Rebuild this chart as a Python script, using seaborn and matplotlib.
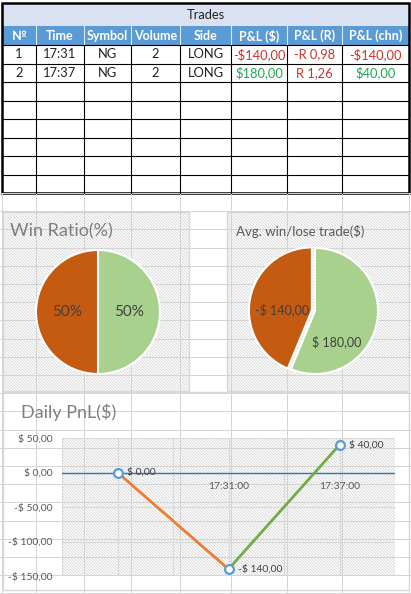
import numpy as np
import pandas as pd
import matplotlib.pyplot as plt
import seaborn as sns
from matplotlib.patches import Rectangle
from matplotlib.collections import LineCollection

# Dados da tabela de trades
headers = ['№', 'Time', 'Symbol', 'Volume', 'Side', 'P&L ($)', 'P&L (R)', 'P&L (chn)']
trade_no = [1, 2]
trade_time = ['17:31', '17:37']
symbol = ['NG', 'NG']
volume = [2, 2]
side = ['LONG', 'LONG']
pnl_usd = [-140.0, 180.0]
pnl_r = [-0.98, 1.26]
pnl_cum = [-140.0, 40.0]
n_rows = 8

# Pizzas
win_ratio = [50, 50]          # win, lose
avg_trade = [180.0, -140.0]   # win, lose

# Daily PnL
pnl_labels = ['', '17:31:00', '17:37:00']
pnl_values = [0.0, -140.0, 40.0]
y_ticks = [50, 0, -50, -100, -150]

W, H = 411, 594
GREEN_PIE = '#A9D18E'
ORANGE_PIE = '#C55A11'
LINE_ORANGE = '#ED7D31'
LINE_GREEN = '#70AD47'
MARKER = '#5B9BD5'
AXIS_BLUE = '#2E75B6'
GRID = '#D9D9D9'
RED = '#D0312D'
GREEN_TXT = '#1FA855'

sns.set_theme(style='white')
plt.rcParams['font.family'] = ['Lato', 'DejaVu Sans']


def money(v, space=True):
    s = f'{abs(v):.2f}'.replace('.', ',')
    sign = '-' if v < 0 else ''
    return f'{sign}$ {s}' if space else f'{sign}${s}'


def r_fmt(v):
    s = f'{abs(v):.2f}'.replace('.', ',')
    return ('-' if v < 0 else '') + 'R ' + s


def px_axes(x0, y0, x1, y1):
    return fig.add_axes([x0 / W, 1 - y1 / H, (x1 - x0) / W, (y1 - y0) / H])


fig = plt.figure(figsize=(W / 100, H / 100), dpi=100)
bg = fig.add_axes([0, 0, 1, 1])
bg.set_xlim(0, W)
bg.set_ylim(H, 0)
bg.axis('off')

# grade da planilha
col_edges = [2, 36, 84, 131, 180, 231, 287, 342, 409]
for x in col_edges:
    bg.plot([x, x], [193, H], color='#D4D4D4', lw=0.7)
for y in np.arange(193, H, 18.2):
    bg.plot([0, W], [y, y], color='#D4D4D4', lw=0.7)

# tabela
bg.add_patch(Rectangle((2, 3), 407, 23, fc='#D9E1F2', ec='none'))
bg.add_patch(Rectangle((2, 26), 407, 19, fc='#5B9BD5', ec='none'))
bg.add_patch(Rectangle((2, 45), 407, 148, fc='white', ec='none'))
bg.text(205.5, 15, 'Trades', ha='center', va='center', fontsize=9.3, color='#222222')
row_edges = [45 + i * 18.5 for i in range(n_rows + 1)]
for i, h in enumerate(headers):
    cx = (col_edges[i] + col_edges[i + 1]) / 2
    bg.text(cx, 36, h, ha='center', va='center', fontsize=9, color='white', weight='bold')
for x in col_edges[1:-1]:
    bg.plot([x, x], [26, 45], color='#DDE8F5', lw=0.8)
    bg.plot([x, x], [45, 193], color='black', lw=0.8)
for y in row_edges[1:-1]:
    bg.plot([2, 409], [y, y], color='black', lw=0.8)
bg.plot([2, 409], [45, 45], color='black', lw=0.8)
bg.add_patch(Rectangle((2, 3), 407, 190, fc='none', ec='black', lw=1.8))

for r in range(len(trade_no)):
    vals = [str(trade_no[r]), trade_time[r], symbol[r], str(volume[r]), side[r],
            money(pnl_usd[r], False), r_fmt(pnl_r[r]), money(pnl_cum[r], False)]
    cols = ['#222222'] * 5 + [RED if pnl_usd[r] < 0 else GREEN_TXT, RED,
                              RED if pnl_cum[r] < 0 else GREEN_TXT]
    cy = (row_edges[r] + row_edges[r + 1]) / 2
    for i, v in enumerate(vals):
        cx = (col_edges[i] + col_edges[i + 1]) / 2
        bg.text(cx, cy, v, ha='center', va='center', fontsize=9.3, color=cols[i])


def hatch(x, y, w, h, step=3):
    # listras diagonais finas (padrao do Excel)
    clip = Rectangle((x, y), w, h, fc='white', ec='none')
    bg.add_patch(clip)
    segs = []
    for c in np.arange(y - (x + w), y + h - x, step):
        segs.append([(x - 5, x - 5 + c), (x + w + 5, x + w + 5 + c)])
    lc = LineCollection(segs, colors='#D2D2D2', linewidths=0.55)
    bg.add_collection(lc)
    lc.set_clip_path(clip)


def chart_box(x, y, w, h, hatched=True):
    if hatched:
        hatch(x, y, w, h)
    else:
        bg.add_patch(Rectangle((x, y), w, h, fc='white', ec='none'))
    bg.add_patch(Rectangle((x, y), w, h, fc='none', ec=GRID, lw=1))


chart_box(3, 212, 186, 179)
chart_box(227, 212, 182, 179)
chart_box(3, 392, 406, 198, hatched=False)
hatch(62, 438, 333, 138)

bg.text(10, 231, 'Win Ratio(%)', ha='left', va='center', fontsize=13, color='#7F7F7F')
bg.text(236, 231, 'Avg. win/lose trade($)', ha='left', va='center', fontsize=9.5, color='#595959')
bg.text(21, 412, 'Daily PnL($)', ha='left', va='center', fontsize=13, color='#7F7F7F')

# Win ratio
ax1 = px_axes(36, 250, 160, 374)
ax1.pie(win_ratio, colors=[GREEN_PIE, ORANGE_PIE], startangle=90, counterclock=False,
        autopct='%1.0f%%', pctdistance=0.5,
        wedgeprops=dict(edgecolor='white', linewidth=1.5),
        textprops=dict(fontsize=11, color='#404040'))
ax1.set_xlim(-1, 1)
ax1.set_ylim(-1, 1)
ax1.axis('off')

# Avg win/lose
ax2 = px_axes(252, 248, 378, 374)
wedges, _ = ax2.pie(np.abs(avg_trade), colors=[GREEN_PIE, ORANGE_PIE], startangle=90,
                    counterclock=False, explode=[0, 0.05],
                    wedgeprops=dict(edgecolor='white', linewidth=1.5))
for w in wedges:
    w.set_clip_on(False)
ax2.set_xlim(-1, 1)
ax2.set_ylim(-1, 1)
ax2.axis('off')
ax2.text(0.35, -0.49, money(avg_trade[0]), ha='center', va='center', fontsize=9, color='#404040')
ax2.text(-0.52, 0.02, money(avg_trade[1]), ha='center', va='center', fontsize=9, color='#404040')

# Daily PnL
ax3 = px_axes(62, 438, 395, 576)
ax3.set_facecolor('none')
xpos = list(range(len(pnl_values)))
seg = pd.DataFrame({
    'x': [xpos[0], xpos[1], xpos[1], xpos[2]],
    'y': [pnl_values[0], pnl_values[1], pnl_values[1], pnl_values[2]],
    'seg': ['a', 'a', 'b', 'b'],
})
for xv in np.arange(-0.5, 2.51, 0.5):
    ax3.axvline(xv, color=GRID, lw=0.8, zorder=1)
for yv in y_ticks:
    if yv != 0:
        ax3.axhline(yv, color=GRID, lw=0.8, zorder=1)
ax3.axhline(0, color=AXIS_BLUE, lw=1, zorder=2)
sns.lineplot(data=seg, x='x', y='y', hue='seg', palette=[LINE_ORANGE, LINE_GREEN],
             legend=False, linewidth=2, sort=False, ax=ax3, zorder=3)
sns.scatterplot(x=xpos, y=pnl_values, color='white', edgecolor=MARKER, linewidth=1.6,
                s=40, ax=ax3, zorder=5)
ax3.set_xlim(-0.5, 2.5)
ax3.set_ylim(-150, 50)
ax3.set_xticks([])
ax3.set_yticks(y_ticks)
ax3.set_yticklabels([money(v) for v in y_ticks])
ax3.tick_params(axis='y', length=0, pad=7, labelsize=7.5, labelcolor='#595959')
ax3.set_xlabel('')
ax3.set_ylabel('')
for s in ax3.spines.values():
    s.set_visible(False)
for i, lab in enumerate(pnl_labels):
    ax3.annotate(lab, (i, 0), xytext=(0, -7), textcoords='offset points',
                 ha='center', va='top', fontsize=7.5, color='#595959')
for i, v in enumerate(pnl_values):
    ax3.annotate(money(v), (i, v), xytext=(7, 0), textcoords='offset points',
                 ha='left', va='center', fontsize=7.5, color='#404040', zorder=6)

fig.savefig('out.png', dpi=100)
